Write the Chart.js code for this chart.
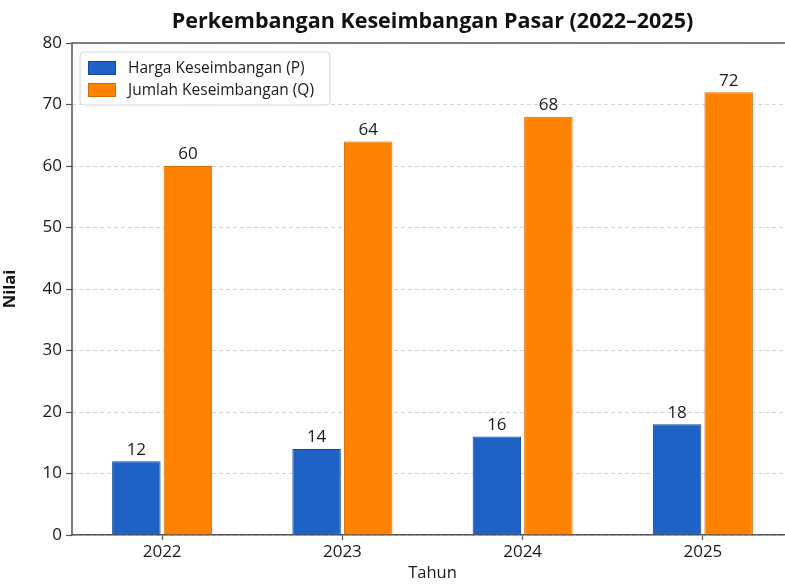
<!DOCTYPE html>
<html>
<head>
<meta charset="utf-8">
<script src="https://cdn.jsdelivr.net/npm/chart.js@4.4.1/dist/chart.umd.min.js"></script>
<style>
  html, body { margin: 0; padding: 0; background: #fff; overflow: hidden; }
  #wrap { width: 795px; height: 584px; }
</style>
</head>
<body>
<div id="wrap"><canvas id="myChart" width="795" height="584"></canvas></div>
<script>
// data
const years = ['2022', '2023', '2024', '2025'];
const hargaP = [12, 14, 16, 18];
const jumlahQ = [60, 64, 68, 72];
const yTicks = [0, 10, 20, 30, 40, 50, 60, 70, 80];

const FONT = "'Open Sans', 'Noto Sans', sans-serif";

// title centred over the plot area, spines, value labels and legend box
const decorPlugin = {
  id: 'decor',
  afterDatasetsDraw(chart) {
    const ctx = chart.ctx;
    const area = chart.chartArea;
    ctx.save();

    // spines (solid)
    ctx.strokeStyle = '#555';
    ctx.lineWidth = 1.5;
    ctx.setLineDash([]);
    ctx.beginPath();
    ctx.moveTo(area.left, area.bottom);
    ctx.lineTo(area.left, area.top);
    ctx.lineTo(area.right, area.top);
    ctx.stroke();

    // values above bars
    ctx.fillStyle = '#1a1a1a';
    ctx.font = '17px ' + FONT;
    ctx.textAlign = 'center';
    ctx.textBaseline = 'bottom';
    chart.data.datasets.forEach((ds, i) => {
      chart.getDatasetMeta(i).data.forEach((bar, j) => {
        ctx.fillText(ds.data[j], bar.x, bar.y - 3);
      });
    });

    // title
    ctx.font = 'bold 21.5px ' + FONT;
    ctx.fillStyle = '#111';
    ctx.textBaseline = 'middle';
    ctx.fillText('Perkembangan Keseimbangan Pasar (2022\u20132025)', (area.left + area.right) / 2, 22);

    // legend inside the plot
    const lx = area.left + 8, ly = area.top + 9, lw = 250, lh = 53;
    ctx.fillStyle = 'rgba(255,255,255,0.9)';
    ctx.strokeStyle = '#d6d6d6';
    ctx.lineWidth = 1;
    ctx.beginPath();
    ctx.roundRect(lx, ly, lw, lh, 4);
    ctx.fill();
    ctx.stroke();
    ctx.font = '15.5px ' + FONT;
    ctx.textAlign = 'left';
    chart.data.datasets.forEach((ds, i) => {
      const cy = ly + 16 + i * 22;
      ctx.fillStyle = ds.backgroundColor;
      ctx.fillRect(lx + 8, cy - 7, 28, 14);
      ctx.strokeStyle = ds.borderColor;
      ctx.strokeRect(lx + 8.5, cy - 6.5, 27, 13);
      ctx.fillStyle = '#1a1a1a';
      ctx.fillText(ds.label, lx + 48, cy + 1);
    });
    ctx.restore();
  }
};

const ctx = document.getElementById('myChart').getContext('2d');
new Chart(ctx, {
  type: 'bar',
  data: {
    labels: years,
    datasets: [
      {
        label: 'Harga Keseimbangan (P)',
        data: hargaP,
        backgroundColor: '#1d62c4',
        borderColor: '#15489a',
        borderWidth: 1,
        barPercentage: 0.94,
        categoryPercentage: 0.572
      },
      {
        label: 'Jumlah Keseimbangan (Q)',
        data: jumlahQ,
        backgroundColor: '#ff8300',
        borderColor: '#d56c00',
        borderWidth: 1,
        barPercentage: 0.94,
        categoryPercentage: 0.572
      }
    ]
  },
  options: {
    responsive: false,
    animation: false,
    layout: { padding: { top: 43, right: 2, left: 0, bottom: 0 } },
    plugins: {
      legend: { display: false },
      title: { display: false },
      tooltip: { enabled: false }
    },
    scales: {
      x: {
        grid: {
          drawOnChartArea: false,
          offset: false,
          tickLength: 5,
          tickColor: '#555',
          tickWidth: 1.2
        },
        border: { color: '#555', width: 1.5 },
        ticks: { color: '#1a1a1a', font: { family: FONT, size: 17 }, padding: 2 },
        title: {
          display: true,
          text: 'Tahun',
          color: '#1a1a1a',
          font: { family: FONT, size: 16.5 },
          padding: { top: 0, bottom: 1 }
        },
        afterFit(scale) { scale.height = 49; }
      },
      y: {
        min: 0,
        max: 80,
        afterBuildTicks(scale) { scale.ticks = yTicks.map(v => ({ value: v })); },
        grid: {
          color: '#d4d4d4',
          lineWidth: 1,
          tickLength: 6,
          tickColor: '#555',
          tickWidth: 1.2,
          tickBorderDash: [],
          drawTicks: true
        },
        border: { display: false, dash: [4, 3] },
        ticks: { color: '#1a1a1a', font: { family: FONT, size: 17 }, padding: 4 },
        title: {
          display: true,
          text: 'Nilai',
          color: '#111',
          font: { family: FONT, size: 16.5, weight: 'bold' },
          padding: { top: 0, bottom: 0 }
        },
        afterFit(scale) { scale.width = 72; }
      }
    }
  },
  plugins: [decorPlugin]
});
</script>
</body>
</html>
